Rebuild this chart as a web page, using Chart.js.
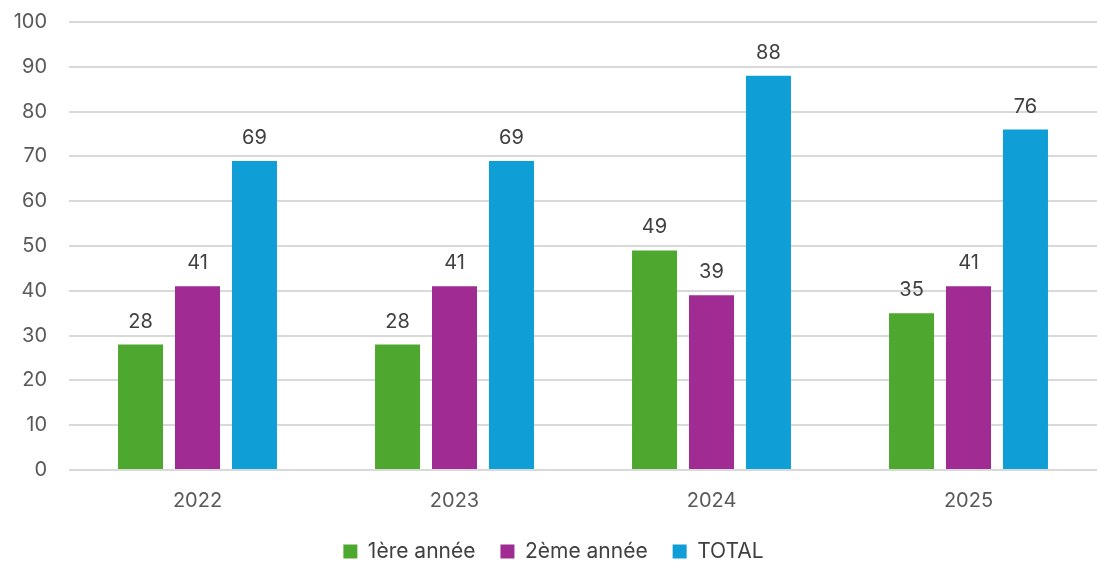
<!DOCTYPE html>
<html>
<head>
<meta charset="utf-8">
<script src="https://cdn.jsdelivr.net/npm/chart.js@4"></script>
<style>
  html, body { margin: 0; padding: 0; background: #fff; }
  #wrap { width: 1099px; height: 562px; position: relative; }
</style>
</head>
<body>
<div id="wrap"><canvas id="chart"></canvas></div>
<script>
/* ===== Data ===== */
const years = ['2022', '2023', '2024', '2025'];
const firstYear = [28, 28, 49, 35];
const secondYear = [41, 41, 39, 41];
const totals = [69, 69, 88, 76];

const seriesNames = ['1ère année', '2ème année', 'TOTAL'];
const seriesColors = ['#4EA72E', '#A02B93', '#0F9ED5'];

const FONT = 'Inter, "Open Sans", "DejaVu Sans", sans-serif';

// Value labels above each bar
const valueLabels = {
  id: 'valueLabels',
  afterDatasetsDraw(chart) {
    const ctx = chart.ctx;
    ctx.save();
    ctx.font = '20px ' + FONT;
    ctx.fillStyle = '#404040';
    ctx.textAlign = 'center';
    ctx.textBaseline = 'bottom';
    chart.data.datasets.forEach((ds, i) => {
      const meta = chart.getDatasetMeta(i);
      meta.data.forEach((bar, j) => {
        ctx.fillText(String(ds.data[j]), bar.x, bar.y - 13);
      });
    });
    ctx.restore();
  }
};

// Keep the legend box a fixed height so the plot area is predictable
const legendHeight = {
  id: 'legendHeight',
  afterInit(chart) {
    const lg = chart.legend;
    if (!lg) return;
    const fit = lg.fit;
    lg.fit = function () { fit.call(this); this.height = 46; };
  }
};

const datasets = [firstYear, secondYear, totals].map((vals, i) => ({
  label: seriesNames[i],
  data: vals,
  backgroundColor: seriesColors[i],
  borderWidth: 0,
  barPercentage: 0.79,
  categoryPercentage: 0.665
}));

new Chart(document.getElementById('chart'), {
  type: 'bar',
  data: { labels: years, datasets },
  plugins: [valueLabels, legendHeight],
  options: {
    responsive: true,
    maintainAspectRatio: false,
    animation: false,
    layout: { padding: { left: 10, right: 2, top: 22, bottom: 0 } },
    plugins: {
      tooltip: { enabled: false },
      legend: {
        position: 'bottom',
        labels: {
          color: '#404040',
          font: { family: FONT, size: 21 },
          boxWidth: 14,
          boxHeight: 14,
          padding: 25
        }
      }
    },
    scales: {
      x: {
        grid: { display: false },
        border: { display: false },
        ticks: { color: '#595959', font: { family: FONT, size: 20 }, padding: 11 },
        afterFit: (s) => { s.height = 46; }
      },
      y: {
        min: 0,
        max: 100,
        grid: { color: '#d9d9d9', lineWidth: 2, drawTicks: false },
        border: { display: false },
        ticks: { stepSize: 10, color: '#595959', font: { family: FONT, size: 20 }, padding: 22 },
        afterFit: (s) => { s.width = 59; s.paddingTop = 0; s.paddingBottom = 0; }
      }
    }
  }
});
</script>
</body>
</html>
